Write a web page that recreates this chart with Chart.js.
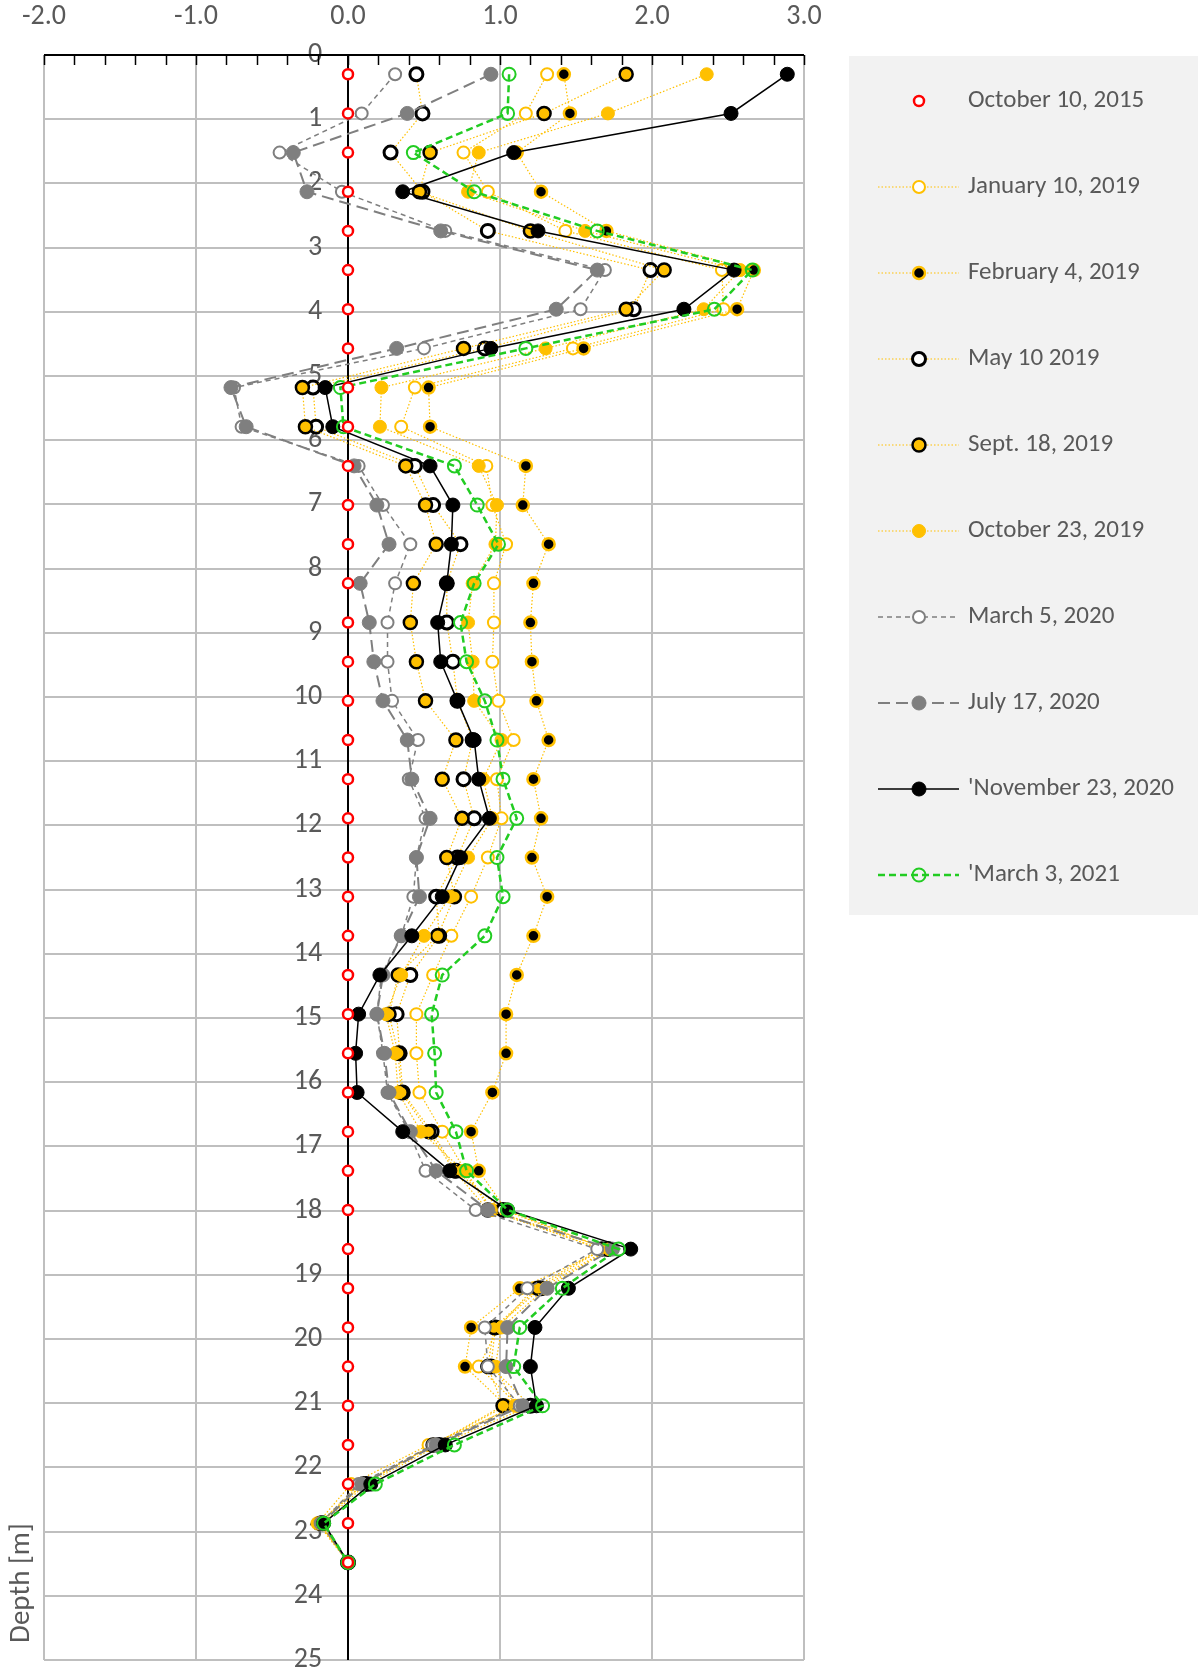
<!DOCTYPE html>
<html>
<head>
<meta charset="utf-8">
<script src="https://cdn.jsdelivr.net/npm/chart.js@4/dist/chart.umd.min.js"></script>
<style>
html,body{margin:0;padding:0;background:#fff;}
#wrap{width:1198px;height:1671px;position:relative;}
</style>
</head>
<body>
<div id="wrap"><canvas id="c" width="1198" height="1671"></canvas></div>
<script>
// ---- data ----
const depths = [0.30,0.91,1.52,2.13,2.74,3.35,3.96,4.57,5.18,5.79,6.40,7.01,7.62,8.23,8.84,9.45,10.06,10.67,11.28,11.89,12.50,13.11,13.72,14.33,14.94,15.55,16.16,16.77,17.38,17.99,18.60,19.21,19.82,20.43,21.04,21.65,22.26,22.87,23.48];

const oct2015 = [0,0,0,0,0,0,0,0,0,0,0,0,0,0,0,0,0,0,0,0,0,0,0,0,0,0,0,0,0,0,0,0,0,0,0,0,0,0,0];
const jan2019 = [1.31,1.17,0.76,0.92,1.43,2.46,2.47,1.48,0.44,0.35,0.91,0.95,1.04,0.96,0.96,0.95,0.99,1.09,0.98,1.01,0.92,0.81,0.68,0.56,0.45,0.45,0.47,0.62,0.77,0.95,1.66,1.22,0.99,0.86,1.12,0.53,0.02,-0.20,0];
const feb2019 = [1.42,1.46,1.11,1.27,1.70,2.67,2.56,1.55,0.53,0.54,1.17,1.15,1.32,1.22,1.20,1.21,1.24,1.32,1.22,1.27,1.21,1.31,1.22,1.11,1.04,1.04,0.95,0.81,0.86,1.04,1.70,1.13,0.81,0.77,1.04,0.56,0.10,-0.19,0];
const may2019 = [0.45,0.49,0.28,0.49,0.92,1.99,1.88,0.90,-0.23,-0.21,0.44,0.56,0.74,0.65,0.65,0.69,0.72,0.82,0.76,0.83,0.72,0.58,0.60,0.41,0.32,0.34,0.36,0.55,0.71,1.02,1.71,1.27,0.97,0.94,1.20,0.60,0.12,-0.17,0];
const sep2019 = [1.83,1.29,0.54,0.47,1.20,2.08,1.83,0.76,-0.30,-0.28,0.38,0.51,0.58,0.43,0.41,0.45,0.51,0.71,0.62,0.75,0.65,0.70,0.59,0.33,0.27,0.33,0.35,0.53,0.70,0.92,1.67,1.25,0.96,0.92,1.02,0.56,0.10,-0.18,0];
const oct2019 = [2.36,1.71,0.86,0.79,1.56,2.58,2.34,1.30,0.22,0.21,0.86,0.98,0.97,0.82,0.79,0.82,0.83,1.01,0.89,0.95,0.79,0.67,0.50,0.35,0.25,0.31,0.33,0.48,0.76,0.94,1.72,1.30,1.01,0.97,1.10,0.57,0.08,-0.19,0];
const mar2020 = [0.31,0.09,-0.45,-0.04,0.64,1.69,1.53,0.50,-0.75,-0.70,0.07,0.23,0.41,0.31,0.26,0.26,0.29,0.46,0.40,0.51,0.45,0.43,0.35,0.22,0.19,0.23,0.26,0.40,0.51,0.84,1.64,1.18,0.90,0.92,1.13,0.56,0.07,-0.18,0];
const jul2020 = [0.94,0.39,-0.36,-0.27,0.61,1.64,1.37,0.32,-0.77,-0.67,0.04,0.19,0.27,0.08,0.14,0.17,0.23,0.39,0.42,0.54,0.45,0.47,0.35,0.23,0.19,0.24,0.27,0.41,0.58,0.92,1.74,1.31,1.05,1.04,1.15,0.58,0.09,-0.17,0];
const nov2020 = [2.89,2.52,1.09,0.36,1.25,2.54,2.21,0.94,-0.15,-0.10,0.54,0.69,0.68,0.65,0.59,0.61,0.72,0.83,0.86,0.93,0.74,0.62,0.42,0.21,0.07,0.05,0.06,0.36,0.67,1.05,1.86,1.45,1.23,1.20,1.24,0.64,0.15,-0.16,0];
const mar2021 = [1.06,1.05,0.43,0.83,1.64,2.66,2.41,1.17,-0.05,-0.03,0.70,0.85,0.99,0.83,0.74,0.78,0.90,0.98,1.02,1.11,0.98,1.02,0.90,0.62,0.55,0.57,0.58,0.71,0.78,1.05,1.78,1.41,1.13,1.09,1.28,0.70,0.18,-0.16,0];

const seriesLabels = ["October 10, 2015","January 10, 2019","February 4, 2019","May 10 2019","Sept. 18, 2019","October 23, 2019","March 5, 2020","July 17, 2020","'November 23, 2020","'March 3, 2021"];
const seriesValues = [oct2015,jan2019,feb2019,may2019,sep2019,oct2019,mar2020,jul2020,nov2020,mar2021];
const xTickMin = -2, xTickMax = 3, yTickMin = 0, yTickMax = 25;

// ---- styles ----
const YEL = '#FFC000', GRY = '#7F7F7F', GRN = '#22CC22';
const styles = [
  {line:false, lc:'#FF0000', lw:0, dash:[], bg:'#FFFFFF', bc:'#FF0000', bw:2.5, r:5},
  {line:true, lc:YEL, lw:1.2, dash:[1.5,2], bg:'#FFFFFF', bc:YEL, bw:2, r:6},
  {line:true, lc:YEL, lw:1.2, dash:[1.5,2], bg:'#000000', bc:YEL, bw:2.5, r:6},
  {line:true, lc:YEL, lw:1.2, dash:[1.5,2], bg:'#FFFFFF', bc:'#000000', bw:3, r:6.5},
  {line:true, lc:YEL, lw:1.2, dash:[1.5,2], bg:YEL, bc:'#000000', bw:2.5, r:6.5},
  {line:true, lc:YEL, lw:1.2, dash:[1.5,2], bg:YEL, bc:YEL, bw:1, r:6.5},
  {line:true, lc:GRY, lw:1.5, dash:[5,4], bg:'#FFFFFF', bc:GRY, bw:2, r:6},
  {line:true, lc:GRY, lw:2, dash:[12,6], bg:GRY, bc:GRY, bw:1, r:7},
  {line:true, lc:'#000000', lw:1.5, dash:[], bg:'#000000', bc:'#000000', bw:1, r:7},
  {line:true, lc:GRN, lw:2.5, dash:[7,4], bg:'rgba(0,0,0,0)', bc:GRN, bw:2, r:6.5}
];
const FONT = "Carlito, Lato, 'Liberation Sans', sans-serif";
const TXT = '#595959';
const AREA = { left: 44, right: 804, top: 55, bottom: 1660 };

const datasets = seriesValues.map((vals, i) => {
  const s = styles[i];
  return {
    label: seriesLabels[i],
    data: vals.map((v, k) => ({x: v, y: depths[k]})),
    showLine: s.line,
    borderColor: s.lc,
    borderWidth: s.lw,
    borderDash: s.dash,
    pointBackgroundColor: s.bg,
    pointBorderColor: s.bc,
    pointBorderWidth: s.bw,
    pointRadius: s.r,
    pointHoverRadius: s.r,
    fill: false,
    tension: 0,
    // later series on top, red topmost
    order: i === 0 ? 0 : (11 - i)
  };
});

const extras = {
  id: 'extras',
  beforeDatasetsDraw(chart) {
    const ctx = chart.ctx, xs = chart.scales.x, ca = chart.chartArea;
    ctx.save();
    ctx.strokeStyle = '#000';
    ctx.lineWidth = 2;
    const x0 = Math.round(xs.getPixelForValue(0));
    ctx.beginPath();
    ctx.moveTo(x0, ca.top);
    ctx.lineTo(x0, ca.bottom);
    ctx.stroke();
    ctx.beginPath();
    ctx.moveTo(ca.left, ca.top);
    ctx.lineTo(ca.right, ca.top);
    ctx.stroke();
    ctx.lineWidth = 1.5;
    for (let k = 0; k <= 25; k++) {
      const v = xTickMin + k * 0.2;
      const px = Math.round(xs.getPixelForValue(v)) + 0.5;
      ctx.beginPath();
      ctx.moveTo(px, ca.top);
      ctx.lineTo(px, ca.top + 10);
      ctx.stroke();
    }
    ctx.restore();
  },
  afterDraw(chart) {
    const ctx = chart.ctx;
    ctx.save();
    ctx.fillStyle = TXT;
    ctx.font = "29px " + FONT;
    ctx.translate(22, 1583);
    ctx.rotate(-Math.PI / 2);
    ctx.textAlign = 'center';
    ctx.textBaseline = 'middle';
    ctx.fillText('Depth [m]', 0, 0);
    ctx.restore();

    ctx.save();
    ctx.fillStyle = '#F2F2F2';
    ctx.fillRect(849, 56, 349, 859);
    for (let i = 0; i < seriesLabels.length; i++) {
      const s = styles[i];
      const y = 101 + i * 86;
      if (s.line) {
        ctx.strokeStyle = s.lc;
        ctx.lineWidth = s.lw;
        ctx.setLineDash(s.dash);
        ctx.beginPath();
        ctx.moveTo(878, y);
        ctx.lineTo(959, y);
        ctx.stroke();
        ctx.setLineDash([]);
      }
      ctx.beginPath();
      ctx.arc(919, y, s.r, 0, Math.PI * 2);
      ctx.fillStyle = s.bg;
      ctx.fill();
      ctx.lineWidth = s.bw;
      ctx.strokeStyle = s.bc;
      ctx.stroke();
      ctx.fillStyle = TXT;
      ctx.font = "25px " + FONT;
      ctx.textAlign = 'left';
      ctx.textBaseline = 'middle';
      ctx.fillText(seriesLabels[i], 968, y);
    }
    ctx.restore();
  }
};

const chart = new Chart(document.getElementById('c'), {
  type: 'scatter',
  data: { datasets },
  options: {
    responsive: false,
    animation: false,
    devicePixelRatio: 1,
    layout: { padding: { left: 44, right: 394, top: 0, bottom: 11 } },
    plugins: { legend: { display: false }, tooltip: { enabled: false } },
    scales: {
      x: {
        type: 'linear',
        position: 'top',
        min: xTickMin, max: xTickMax,
        ticks: { stepSize: 1, color: TXT, font: { family: FONT, size: 28 }, padding: 21,
                 callback: v => Number(v).toFixed(1) },
        grid: { color: '#BFBFBF', lineWidth: 2, drawTicks: false },
        border: { display: false }
      },
      y: {
        type: 'linear',
        reverse: true,
        position: { x: -0.17 },
        min: yTickMin, max: yTickMax,
        afterFit: (scale) => { scale.paddingTop = 0; scale.paddingBottom = 0; },
        ticks: { stepSize: 1, color: TXT, font: { family: FONT, size: 28 } },
        grid: { color: '#BFBFBF', lineWidth: 2, drawTicks: false },
        border: { display: false }
      }
    }
  },
  plugins: [extras]
});

// fine-tune layout padding so the plot area lands where the reference has it
for (let pass = 0; pass < 3; pass++) {
  const ca = chart.chartArea, p = chart.options.layout.padding;
  const dT = ca.top - AREA.top, dB = ca.bottom - AREA.bottom;
  const dL = ca.left - AREA.left, dR = ca.right - AREA.right;
  if (Math.abs(dT) < 0.5 && Math.abs(dB) < 0.5 && Math.abs(dL) < 0.5 && Math.abs(dR) < 0.5) break;
  p.top -= dT; p.bottom += dB; p.left -= dL; p.right += dR;
  chart.update();
}
</script>
</body>
</html>
